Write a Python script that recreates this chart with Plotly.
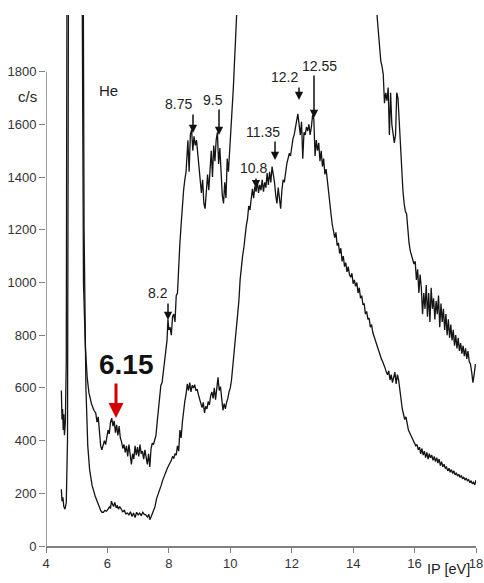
import plotly.graph_objects as go

# ---------------- data ----------------
ip_lower = [4.50, 4.52, 4.55, 4.58, 4.62, 4.66, 4.70, 4.74,
            5.20, 5.24, 5.30, 5.36, 5.42, 5.50, 5.60, 5.70, 5.78, 5.82, 5.87, 5.92, 5.97,
            6.02, 6.07, 6.10, 6.13, 6.16, 6.20, 6.24, 6.28, 6.32, 6.36, 6.40, 6.45, 6.50, 6.55,
            6.60, 6.65, 6.70, 6.75, 6.80, 6.85, 6.90, 6.95, 7.00, 7.05, 7.10, 7.15, 7.20, 7.25,
            7.30, 7.35, 7.38, 7.42, 7.48, 7.55, 7.60, 7.65, 7.70, 7.75, 7.80, 7.85, 7.90, 7.95,
            8.00, 8.04, 8.08, 8.12, 8.16, 8.20, 8.24, 8.28, 8.32, 8.36, 8.40, 8.44, 8.48, 8.52,
            8.56, 8.60, 8.64, 8.68, 8.72, 8.76, 8.80, 8.84, 8.88, 8.92, 8.96, 9.00, 9.04, 9.08,
            9.12, 9.16, 9.20, 9.24, 9.28, 9.32, 9.36, 9.40, 9.44, 9.48, 9.52, 9.56, 9.60, 9.64,
            9.68, 9.72, 9.76, 9.80, 9.84, 9.88, 9.92, 9.96, 10.00, 10.04, 10.08, 10.12, 10.16,
            10.20, 10.24, 10.28, 10.32, 10.36, 10.40, 10.44, 10.48, 10.52, 10.56, 10.60, 10.64,
            10.68, 10.72, 10.76, 10.80, 10.84, 10.88, 10.92, 10.96, 11.00, 11.04, 11.08, 11.12,
            11.16, 11.20, 11.24, 11.28, 11.32, 11.36, 11.40, 11.44, 11.48, 11.52, 11.56, 11.60,
            11.64, 11.68, 11.72, 11.76, 11.80, 11.84, 11.88, 11.92, 11.96, 12.00, 12.04, 12.08,
            12.12, 12.16, 12.20, 12.24, 12.28, 12.32, 12.36, 12.40, 12.44, 12.48, 12.52, 12.56,
            12.60, 12.64, 12.68, 12.72, 12.76, 12.80, 12.84, 12.88, 12.92, 12.96, 13.00, 13.04,
            13.08, 13.12, 13.16, 13.20, 13.24, 13.28, 13.32, 13.36, 13.40, 13.44, 13.48, 13.52,
            13.56, 13.60, 13.64, 13.68, 13.72, 13.76, 13.80, 13.84, 13.88, 13.92, 13.96, 14.00,
            14.04, 14.08, 14.12, 14.16, 14.20, 14.24, 14.28, 14.32, 14.36, 14.40, 14.44, 14.48,
            14.52, 14.56, 14.60, 14.64, 14.68, 14.72, 14.76, 14.80, 14.84, 14.88, 14.92, 14.96,
            15.00, 15.04, 15.08, 15.12, 15.16, 15.20, 15.24, 15.28, 15.32, 15.36, 15.40, 15.44,
            15.48, 15.52, 15.56, 15.60, 15.64, 15.68, 15.72, 15.76, 15.80, 15.84, 15.88, 15.92,
            15.96, 16.00, 16.04, 16.08, 16.12, 16.16, 16.20, 16.24, 16.28, 16.32, 16.36, 16.40,
            16.44, 16.48, 16.52, 16.56, 16.60, 16.64, 16.68, 16.72, 16.76, 16.80, 16.84, 16.88,
            16.92, 16.96, 17.00, 17.04, 17.08, 17.12, 17.16, 17.20, 17.24, 17.28, 17.32, 17.36,
            17.40, 17.44, 17.48, 17.52, 17.56, 17.60, 17.64, 17.68, 17.72, 17.76, 17.80, 17.84,
            17.88, 17.92, 17.96, 18.00]
cps_lower = [215, 170, 185, 150, 140, 165, 400, 2600,
             2600, 1200, 600, 380, 290, 230, 190, 155, 135, 128, 128, 135, 132,
             140, 150, 142, 170, 160, 150, 165, 148, 152, 140, 150, 138, 130, 135,
             122, 125, 118, 130, 112, 125, 108, 128, 118, 125, 115, 128, 120, 118,
             110, 120, 100, 110, 128, 150, 180, 195, 215, 230, 250, 262, 280, 295,
             305, 318, 325, 340, 332, 350, 345, 380, 360, 440, 410, 470, 520, 550,
             575, 615, 590, 620, 585, 610, 600, 612, 590, 595, 575, 555, 540, 525,
             545, 505, 530, 520, 548, 535, 570, 585, 560, 600, 555, 610, 640, 590,
             605, 560, 515, 540, 520, 545, 560, 585, 600, 630, 680, 720, 760,
             810, 870, 930, 1010, 1070, 1100, 1130, 1180, 1215, 1240, 1290, 1275,
             1330, 1355, 1320, 1365, 1345, 1385, 1340, 1370, 1350, 1390, 1345, 1380,
             1360, 1415, 1370, 1420, 1380, 1440, 1410, 1380, 1330, 1300, 1360, 1310,
             1280, 1350, 1390, 1380, 1420, 1450, 1470, 1490, 1480, 1520, 1545, 1560,
             1590, 1610, 1640, 1600, 1560, 1610, 1470, 1570, 1560, 1590, 1575, 1600,
             1560, 1590, 1635, 1620, 1480, 1540, 1500, 1530, 1460, 1500, 1440, 1470,
             1410, 1430, 1380, 1330, 1300, 1260, 1220, 1200, 1170, 1190, 1140, 1150,
             1110, 1130, 1080, 1100, 1060, 1075, 1040, 1060, 1030, 1020, 1035, 995,
             1010, 985, 1000, 960, 980, 940, 950, 915, 920, 880, 890, 860,
             865, 830, 840, 810, 795, 780, 770, 755, 740, 725, 710, 700,
             690, 675, 660, 650, 665, 630, 650, 620, 640, 660, 615, 650,
             630, 590, 570, 520, 500, 480, 490, 455, 440, 430, 420, 410,
             400, 395, 380, 385, 365, 375, 350, 370, 345, 360, 335, 355,
             330, 350, 335, 345, 325, 340, 320, 335, 315, 330, 305, 320,
             300, 310, 295, 300, 285, 295, 280, 290, 275, 285, 270, 278,
             265, 272, 260, 268, 255, 262, 250, 258, 248, 252, 240, 248,
             236, 242, 232, 250]

ip_upper = [4.50, 4.52, 4.54, 4.56, 4.58, 4.60, 4.63, 4.66, 4.69,
            5.16, 5.22, 5.28, 5.34, 5.40, 5.48, 5.56, 5.62, 5.66, 5.70, 5.74, 5.78, 5.82,
            5.86, 5.90, 5.94, 5.98, 6.02, 6.06, 6.10, 6.14, 6.18, 6.22, 6.26, 6.30, 6.34,
            6.38, 6.42, 6.46, 6.50, 6.54, 6.58, 6.62, 6.66, 6.70, 6.74, 6.78, 6.82, 6.86,
            6.90, 6.94, 6.98, 7.02, 7.06, 7.10, 7.14, 7.18, 7.22, 7.26, 7.30, 7.34, 7.38,
            7.42, 7.46, 7.50, 7.54, 7.58, 7.62, 7.66, 7.70, 7.74, 7.78, 7.82, 7.86, 7.90,
            7.94, 7.97, 8.00, 8.04, 8.08, 8.12, 8.16, 8.20, 8.24, 8.28, 8.32, 8.36, 8.40,
            8.44, 8.48, 8.52, 8.56, 8.60, 8.62, 8.66, 8.70, 8.74, 8.78, 8.82, 8.86, 8.90,
            8.94, 8.98, 9.02, 9.06, 9.10, 9.14, 9.18, 9.22, 9.26, 9.30, 9.34, 9.38, 9.42,
            9.46, 9.50, 9.54, 9.58, 9.62, 9.66, 9.70, 9.74, 9.78, 9.82, 9.86, 9.90, 9.94,
            9.98, 10.02, 10.06, 10.10, 10.14, 10.18, 10.22, 10.28,
            14.70, 14.78, 14.82, 14.86, 14.90, 14.94, 14.98, 15.02, 15.06, 15.10, 15.14,
            15.18, 15.22, 15.26, 15.30, 15.34, 15.38, 15.42, 15.46, 15.50, 15.54, 15.58,
            15.62, 15.66, 15.70, 15.74, 15.78, 15.82, 15.86, 15.90, 15.94, 15.98, 16.02,
            16.06, 16.10, 16.14, 16.18, 16.22, 16.26, 16.30, 16.34, 16.38, 16.42, 16.46,
            16.50, 16.54, 16.58, 16.62, 16.66, 16.70, 16.74, 16.78, 16.82, 16.86, 16.90,
            16.94, 16.98, 17.02, 17.06, 17.10, 17.14, 17.18, 17.22, 17.26, 17.30, 17.34,
            17.38, 17.42, 17.46, 17.50, 17.54, 17.58, 17.62, 17.66, 17.70, 17.74, 17.78,
            17.82, 17.86, 17.90, 17.94, 17.98]
cps_upper = [590, 480, 520, 440, 500, 420, 470, 700, 2600,
             2600, 1000, 760, 640, 580, 540, 515, 505, 470, 490, 430, 380, 365,
             380, 400, 385, 420, 440, 425, 470, 485, 455, 475, 430, 460, 420,
             455, 410, 395, 370, 385, 355, 380, 340, 385, 335, 310, 350, 330,
             380, 345, 375, 340, 385, 350, 360, 330, 365, 340, 310, 350, 300,
             370, 390, 385, 400, 420, 470, 520, 560, 610, 620, 660, 700, 760,
             780, 860, 820, 830, 800, 870, 880, 850, 950, 960, 1080, 1150, 1220,
             1310, 1350, 1390, 1420, 1500, 1540, 1420, 1560, 1580, 1500, 1555, 1520, 1540,
             1490, 1420, 1380, 1340, 1390, 1300, 1280, 1370, 1410, 1350, 1440, 1500, 1400,
             1520, 1460, 1540, 1570, 1450, 1510, 1400, 1330, 1300, 1380, 1320, 1470, 1420,
             1520, 1600, 1660, 1740, 1830, 1940, 2050, 2400,
             2400, 2010, 1950, 1870, 1840, 1820, 1790, 1680, 1720, 1690, 1740,
             1560, 1720, 1600, 1550, 1530, 1560, 1720, 1700, 1600, 1520, 1420,
             1350, 1300, 1270, 1260, 1200, 1150, 1120, 1100, 1090, 1070, 1080,
             1010, 1050, 960, 1030, 980, 880, 960, 900, 990, 870, 960,
             850, 980, 900, 940, 860, 930, 880, 950, 830, 920, 850,
             900, 820, 880, 800, 860, 790, 840, 780, 820, 760, 800,
             750, 790, 740, 770, 730, 760, 720, 750, 710, 740, 700,
             690, 660, 620, 650, 690]

y_ticks = [0, 200, 400, 600, 800, 1000, 1200, 1400, 1600, 1800]
x_ticks = [4, 6, 8, 10, 12, 14, 16, 18]
peak_labels = ["8.2", "8.75", "9.5", "10.8", "11.35", "12.2", "12.55"]
highlight_label = "6.15"

# ---------------- figure ----------------
FONT = "Liberation Sans, Arial, sans-serif"
fig = go.Figure()
for xs, ys in [(ip_lower, cps_lower), (ip_upper, cps_upper)]:
    fig.add_trace(go.Scatter(x=xs, y=ys, mode="lines",
                             line=dict(color="#141414", width=1.3),
                             showlegend=False, hoverinfo="skip"))

# peak arrows: (tip x, tip y, tail y), label position (x, y)
arrow_geo = [
    (7.972, 858, 926, 7.65, 960),
    (8.786, 1567, 1643, 8.33, 1677),
    (9.633, 1560, 1662, 9.44, 1692),
    (10.837, 1358, 1400, 10.74, 1434),
    (11.456, 1465, 1541, 11.07, 1571),
    (12.237, 1692, 1746, 11.78, 1780),
    (12.726, 1624, 1791, 12.89, 1821),
]
annotations = []
for lab, (ax_, ty, by, lx, ly) in zip(peak_labels, arrow_geo):
    annotations.append(dict(x=ax_, y=ty, ax=ax_, ay=by, xref="x", yref="y",
                            axref="x", ayref="y", text="", showarrow=True,
                            arrowhead=2, arrowsize=1.1, arrowwidth=1.5,
                            arrowcolor="#111111"))
    annotations.append(dict(x=lx, y=ly, xref="x", yref="y", text=lab,
                            xanchor="center", yanchor="middle",
                            showarrow=False, font=dict(family=FONT, size=14, color="#222222")))

# red highlighted arrow
annotations.append(dict(x=6.279, y=486, ax=6.279, ay=622, xref="x", yref="y",
                        axref="x", ayref="y", text="", showarrow=True,
                        arrowhead=2, arrowsize=1.0, arrowwidth=3,
                        arrowcolor="#d40000"))
annotations.append(dict(x=6.605, y=687, xref="x", yref="y", text="<b>" + highlight_label + "</b>",
                        xanchor="center", yanchor="middle",
                        showarrow=False, font=dict(family=FONT, size=28, color="#111111")))
annotations.append(dict(x=6.02, y=1727, xref="x", yref="y", text="He",
                        xanchor="center", yanchor="middle",
                        showarrow=False, font=dict(family=FONT, size=15, color="#222222")))
annotations.append(dict(x=-0.042, y=0.8456, xref="paper", yref="paper", text="c/s",
                        xanchor="center", yanchor="middle",
                        showarrow=False, font=dict(family=FONT, size=15, color="#222222")))
annotations.append(dict(x=0.935, y=-0.043, xref="paper", yref="paper", text="IP [eV]",
                        xanchor="center", yanchor="middle",
                        showarrow=False, font=dict(family=FONT, size=14.5, color="#222222")))

fig.update_layout(
    width=484, height=583,
    margin=dict(l=46, r=8, t=15, b=37),
    paper_bgcolor="white", plot_bgcolor="white",
    annotations=annotations,
    shapes=[dict(type="line", xref="x", yref="y", x0=4, x1=4, y0=0, y1=1800,
                 line=dict(color="#808080", width=1.5), layer="above")],
)
fig.update_xaxes(range=[4, 18], tickvals=x_ticks, ticks="outside", ticklen=5,
                 tickcolor="#808080", showline=True, linecolor="#808080", linewidth=1.5,
                 showgrid=False, zeroline=False, automargin=False,
                 tickfont=dict(family=FONT, size=13, color="#333333"))
fig.update_yaxes(range=[0, 2015], tickvals=y_ticks, ticks="outside", ticklen=6,
                 tickcolor="#808080", showline=False, showgrid=False, zeroline=False,
                 automargin=False,
                 tickfont=dict(family=FONT, size=13, color="#333333"))

fig.write_html("out.html", config={"displayModeBar": False},
               post_script="document.body.style.margin='0';document.body.style.padding='0';")
